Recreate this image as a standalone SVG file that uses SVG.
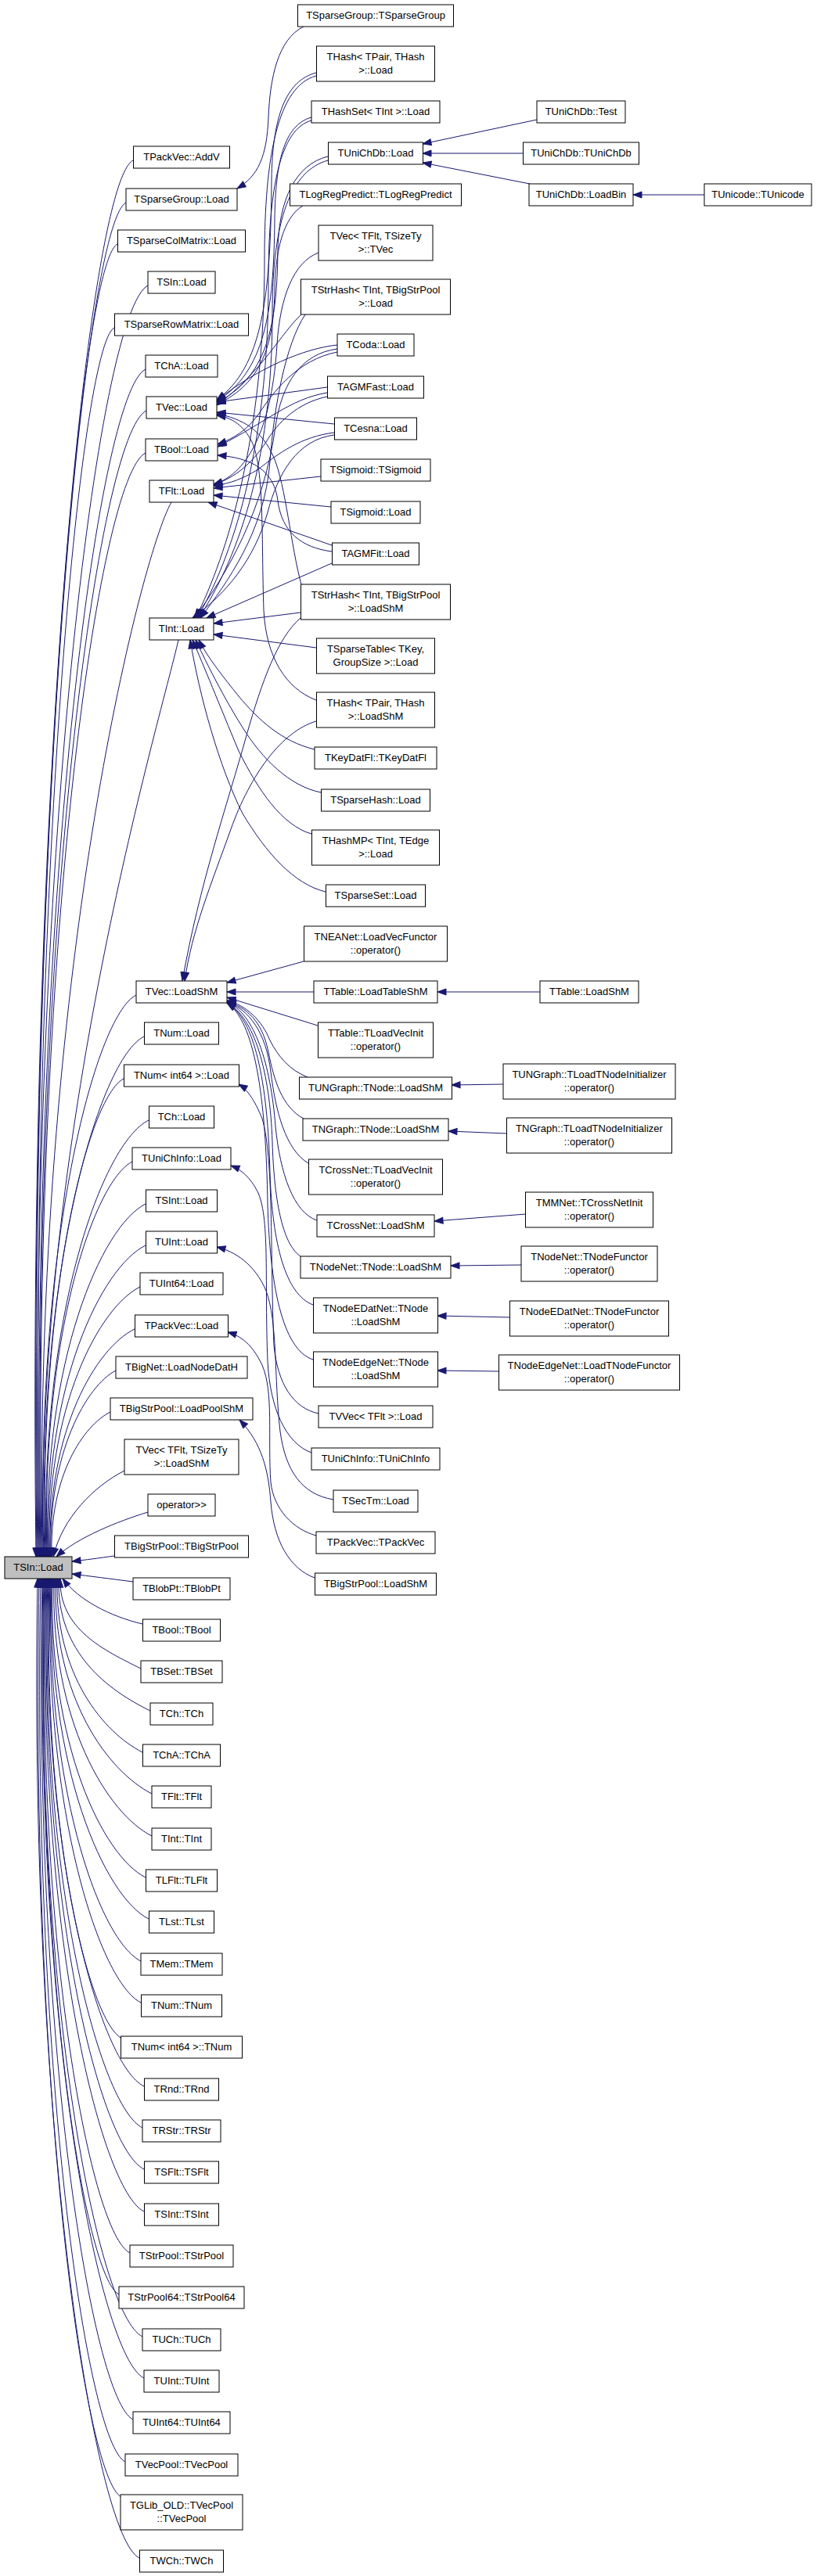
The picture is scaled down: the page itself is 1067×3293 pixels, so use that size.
<svg xmlns="http://www.w3.org/2000/svg" width="1067" height="3293" viewBox="0 0 1067 3293">
<defs>
<style>
.n rect{fill:#fff;stroke:#000;stroke-width:1}
.n.root rect{fill:#bfbfbf}
.n text{font-family:"Liberation Sans",Arial,sans-serif;font-size:13px;text-anchor:middle;fill:#000}
#edges path{fill:none;stroke:#191970;stroke-width:1;marker-end:url(#arr)}
</style>
<marker id="arr" markerUnits="userSpaceOnUse" markerWidth="13" markerHeight="10" viewBox="0 0 13 10" refX="12" refY="5" orient="auto">
<path d="M1,1 L12,5 L1,9 z" fill="#191970" stroke="#191970" stroke-width="1"/>
</marker>
</defs>
<rect width="1067" height="3293" fill="#fff"/>
<g id="edges">
<!-- column 1 to TSIn::Load -->
<path d="M170,205 C114,233 34,1006 46,1990"/>
<path d="M161,259 C110,285 35,1036 47,1990"/>
<path d="M150,312 C104,335 36,1065 48,1990"/>
<path d="M189,365 C126,397 37,1094 49,1990"/>
<path d="M146,419 C103,441 38,1124 50,1990"/>
<path d="M186,472 C125,502 39,1153 51,1990"/>
<path d="M187,525 C126,555 40,1182 52,1990"/>
<path d="M186,579 C126,609 41,1212 53,1990"/>
<path d="M219,642 C180,710 43,1250 54,1990"/>
<path d="M228,818 C205,920 45,1450 55,1990"/>
<path d="M174,1272 C121,1299 45,1593 56,1990"/>
<path d="M184,1325 C127,1354 47,1622 57,1990"/>
<path d="M158,1379 C113,1402 49,1652 58,1990"/>
<path d="M190,1432 C131,1461 51,1681 59,1990"/>
<path d="M169,1485 C120,1510 52,1710 60,1990"/>
<path d="M186,1539 C130,1567 54,1740 61,1990"/>
<path d="M186,1592 C130,1620 56,1769 62,1990"/>
<path d="M179,1645 C127,1671 58,1798 63,1990"/>
<path d="M172,1699 C123,1723 60,1828 64,1990"/>
<path d="M148,1752 C111,1771 61,1857 65,1990"/>
<path d="M141,1805 C107,1822 63,1886 66,1990"/>
<path d="M159,1880 C120,1900 80,1940 68,1990"/>
<path d="M189,1933 C150,1945 100,1965 72,1990"/>
<path d="M146,1989 C125,1992 110,1994 92,1996"/>
<path d="M170,2022 C140,2018 115,2015 92,2012"/>
<path d="M182,2076 C140,2066 100,2045 80,2018"/>
<path d="M180,2133 C134,2110 75,2083 77,2018"/>
<path d="M192,2187 C139,2161 72,2113 75,2018"/>
<path d="M182,2240 C133,2215 70,2142 73,2018"/>
<path d="M194,2293 C139,2265 67,2171 71,2018"/>
<path d="M194,2347 C138,2319 64,2201 69,2018"/>
<path d="M186,2400 C132,2373 61,2230 67,2018"/>
<path d="M190,2453 C134,2425 59,2259 66,2018"/>
<path d="M180,2507 C128,2481 58,2289 65,2018"/>
<path d="M180,2560 C128,2534 56,2318 64,2018"/>
<path d="M156,2606 C114,2585 54,2343 63,2018"/>
<path d="M184,2667 C129,2640 52,2377 62,2018"/>
<path d="M182,2720 C128,2693 50,2406 61,2018"/>
<path d="M184,2773 C128,2745 49,2435 60,2018"/>
<path d="M184,2827 C128,2799 47,2465 59,2018"/>
<path d="M166,2880 C117,2856 46,2494 58,2018"/>
<path d="M152,2933 C109,2912 45,2523 57,2018"/>
<path d="M182,2987 C125,2959 44,2553 56,2018"/>
<path d="M184,3040 C126,3011 43,2582 55,2018"/>
<path d="M170,3093 C118,3067 42,2611 54,2018"/>
<path d="M160,3147 C111,3123 40,2641 52,2018"/>
<path d="M155,3192 C108,3168 38,2674 50,2018"/>
<path d="M178,3270 C120,3241 36,2709 48,2018"/>
<!-- column 2 to column 1 (upper) -->
<path d="M388,34 C355,50 345,100 343,150 C341,200 330,225 303,241"/>
<path d="M404,93 C365,103 348,150 347,230 C346,380 335,470 277,511"/>
<path d="M398,150 C362,160 352,210 351,280 C350,400 338,475 277,513"/>
<path d="M419,200 C378,210 356,255 355,320 C354,420 340,482 277,515"/>
<path d="M387,263 C362,278 352,320 351,370 C350,440 335,490 277,517"/>
<path d="M385,402 C360,425 335,475 277,518"/>
<path d="M431,441 C390,445 330,470 277,512"/>
<path d="M418,495 L277,514"/>
<path d="M427,542 L277,527"/>
<path d="M385,747 C372,700 365,620 350,585 C335,550 310,535 277,529"/>
<path d="M404,895 C365,880 340,840 337,780 C334,690 338,600 322,565 C312,545 298,534 277,531"/>
<path d="M431,450 C380,460 350,500 330,530 C315,550 300,560 278,568"/>
<path d="M418,502 C370,510 340,540 278,571"/>
<path d="M424,705 C385,700 360,680 355,640 C350,600 320,585 278,582"/>
<path d="M407,323 C375,335 358,380 354,440 C348,540 320,605 273,619"/>
<path d="M427,553 C385,558 355,580 330,600 C310,612 295,618 273,621"/>
<path d="M418,507 C380,515 355,540 340,565 C320,595 300,610 273,620"/>
<path d="M410,609 L273,624"/>
<path d="M423,648 L273,633"/>
<path d="M424,697 L266,642"/>
<path d="M404,97 C355,110 338,200 338,330 C338,560 290,710 250,790"/>
<path d="M398,154 C358,165 343,240 343,360 C343,580 295,715 252,790"/>
<path d="M419,205 C372,218 348,280 348,400 C348,600 300,720 254,790"/>
<path d="M390,402 C365,440 350,520 345,590 C338,680 290,745 256,790"/>
<path d="M431,446 C385,452 360,490 352,545 C338,650 290,735 248,790"/>
<path d="M427,556 C380,562 355,605 342,655 C325,715 290,758 246,790"/>
<path d="M424,720 L264,790"/>
<path d="M384,783 L273,797"/>
<path d="M404,828 L273,811"/>
<path d="M402,958 C360,948 330,920 305,890 C285,865 265,840 254,818"/>
<path d="M410,1013 C370,1005 335,970 310,930 C285,890 265,850 250,818"/>
<path d="M398,1066 C360,1055 330,1010 305,960 C280,900 260,850 246,818"/>
<path d="M416,1140 C375,1130 340,1090 310,1040 C280,980 255,890 243,818"/>
<path d="M404,922 C360,935 320,990 295,1060 C270,1130 245,1190 236,1254"/>
<path d="M384,790 C355,815 335,870 315,940 C290,1030 255,1130 233,1254"/>
<!-- column 2 to column 1 (lower) -->
<path d="M388,1229 L290,1256"/>
<path d="M401,1268 L290,1268"/>
<path d="M406,1311 L290,1275"/>
<path d="M393,1377 C370,1368 355,1350 345,1330 C335,1305 315,1285 290,1279"/>
<path d="M388,1430 C360,1415 350,1380 343,1345 C335,1305 315,1288 290,1280"/>
<path d="M394,1487 C365,1470 352,1420 346,1370 C340,1320 318,1290 290,1281"/>
<path d="M405,1560 C375,1550 358,1500 352,1440 C346,1360 325,1295 290,1281"/>
<path d="M384,1606 C360,1590 350,1530 348,1460 C345,1370 325,1300 290,1282"/>
<path d="M400,1668 C365,1655 348,1590 345,1500 C342,1380 325,1302 290,1282"/>
<path d="M400,1738 C360,1725 345,1640 342,1540 C340,1400 325,1305 290,1282"/>
<path d="M407,1807 C375,1800 355,1770 350,1720 C345,1600 350,1480 335,1430 C325,1405 315,1392 305,1386"/>
<path d="M398,1857 C365,1845 345,1800 342,1740 C338,1640 345,1560 330,1525 C320,1505 308,1495 295,1490"/>
<path d="M426,1917 C385,1910 365,1880 358,1830 C350,1760 355,1690 340,1650 C325,1615 300,1600 277,1594"/>
<path d="M404,1963 C375,1955 350,1930 346,1895 C342,1840 350,1780 335,1745 C322,1718 308,1708 291,1703"/>
<path d="M402,2017 C370,2005 350,1970 346,1920 C343,1880 335,1845 306,1815"/>
<!-- column 3 to column 2 -->
<path d="M686,153 L540,184"/>
<path d="M669,196 L540,196"/>
<path d="M677,235 L540,208"/>
<path d="M900,249 L809,249"/>
<path d="M690,1268 L559,1268"/>
<path d="M643,1386 L577,1387"/>
<path d="M648,1449 L573,1446"/>
<path d="M672,1552 L555,1561"/>
<path d="M666,1617 L576,1618"/>
<path d="M652,1684 L559,1682"/>
<path d="M638,1753 L559,1752"/>
</g>
<g id="root" class="n root"><rect x="6" y="1990" width="86" height="28"/><text x="49" y="2008">TSIn::Load</text></g>
<!-- column 1 -->
<g id="c1_01" class="n"><rect x="170.5" y="187" width="123" height="28"/><text x="232" y="205">TPackVec::AddV</text></g>
<g id="c1_02" class="n"><rect x="161" y="241" width="142" height="28"/><text x="232" y="259">TSparseGroup::Load</text></g>
<g id="c1_03" class="n"><rect x="150.5" y="294" width="163" height="28"/><text x="232" y="312">TSparseColMatrix::Load</text></g>
<g id="c1_04" class="n"><rect x="189" y="347" width="86" height="28"/><text x="232" y="365">TSIn::Load</text></g>
<g id="c1_05" class="n"><rect x="146.5" y="401" width="171" height="28"/><text x="232" y="419">TSparseRowMatrix::Load</text></g>
<g id="c1_06" class="n"><rect x="186" y="454" width="92" height="28"/><text x="232" y="472">TChA::Load</text></g>
<g id="c1_07" class="n"><rect x="187" y="507" width="90" height="28"/><text x="232" y="525">TVec::Load</text></g>
<g id="c1_08" class="n"><rect x="186" y="561" width="92" height="28"/><text x="232" y="579">TBool::Load</text></g>
<g id="c1_09" class="n"><rect x="191" y="614" width="82" height="28"/><text x="232" y="632">TFlt::Load</text></g>
<g id="c1_10" class="n"><rect x="191" y="790" width="82" height="28"/><text x="232" y="808">TInt::Load</text></g>
<g id="c1_11" class="n"><rect x="174" y="1254" width="116" height="28"/><text x="232" y="1272">TVec::LoadShM</text></g>
<g id="c1_12" class="n"><rect x="184.5" y="1307" width="95" height="28"/><text x="232" y="1325">TNum::Load</text></g>
<g id="c1_13" class="n"><rect x="158.5" y="1361" width="147" height="28"/><text x="232" y="1379">TNum&lt; int64 &gt;::Load</text></g>
<g id="c1_14" class="n"><rect x="190.5" y="1414" width="83" height="28"/><text x="232" y="1432">TCh::Load</text></g>
<g id="c1_15" class="n"><rect x="169" y="1467" width="126" height="28"/><text x="232" y="1485">TUniChInfo::Load</text></g>
<g id="c1_16" class="n"><rect x="186.5" y="1521" width="91" height="28"/><text x="232" y="1539">TSInt::Load</text></g>
<g id="c1_17" class="n"><rect x="186.5" y="1574" width="91" height="28"/><text x="232" y="1592">TUInt::Load</text></g>
<g id="c1_18" class="n"><rect x="179" y="1627" width="106" height="28"/><text x="232" y="1645">TUInt64::Load</text></g>
<g id="c1_19" class="n"><rect x="172.5" y="1681" width="119" height="28"/><text x="232" y="1699">TPackVec::Load</text></g>
<g id="c1_20" class="n"><rect x="148" y="1734" width="168" height="28"/><text x="232" y="1752">TBigNet::LoadNodeDatH</text></g>
<g id="c1_21" class="n"><rect x="141" y="1787" width="182" height="28"/><text x="232" y="1805">TBigStrPool::LoadPoolShM</text></g>
<g id="c1_22" class="n"><rect x="159" y="1840" width="146" height="45"/><text x="232" y="1857.5">TVec&lt; TFlt, TSizeTy</text><text x="232" y="1874.5">&gt;::LoadShM</text></g>
<g id="c1_23" class="n"><rect x="189" y="1910" width="86" height="28"/><text x="232" y="1928">operator&gt;&gt;</text></g>
<g id="c1_24" class="n"><rect x="146.5" y="1963" width="171" height="28"/><text x="232" y="1981">TBigStrPool::TBigStrPool</text></g>
<g id="c1_25" class="n"><rect x="170" y="2017" width="124" height="28"/><text x="232" y="2035">TBlobPt::TBlobPt</text></g>
<g id="c1_26" class="n"><rect x="182.5" y="2070" width="99" height="28"/><text x="232" y="2088">TBool::TBool</text></g>
<g id="c1_27" class="n"><rect x="180" y="2123" width="104" height="28"/><text x="232" y="2141">TBSet::TBSet</text></g>
<g id="c1_28" class="n"><rect x="192" y="2177" width="80" height="28"/><text x="232" y="2195">TCh::TCh</text></g>
<g id="c1_29" class="n"><rect x="182.5" y="2230" width="99" height="28"/><text x="232" y="2248">TChA::TChA</text></g>
<g id="c1_30" class="n"><rect x="194" y="2283" width="76" height="28"/><text x="232" y="2301">TFlt::TFlt</text></g>
<g id="c1_31" class="n"><rect x="194" y="2337" width="76" height="28"/><text x="232" y="2355">TInt::TInt</text></g>
<g id="c1_32" class="n"><rect x="186.5" y="2390" width="91" height="28"/><text x="232" y="2408">TLFlt::TLFlt</text></g>
<g id="c1_33" class="n"><rect x="190.5" y="2443" width="83" height="28"/><text x="232" y="2461">TLst::TLst</text></g>
<g id="c1_34" class="n"><rect x="180" y="2497" width="104" height="28"/><text x="232" y="2515">TMem::TMem</text></g>
<g id="c1_35" class="n"><rect x="180.5" y="2550" width="103" height="28"/><text x="232" y="2568">TNum::TNum</text></g>
<g id="c1_36" class="n"><rect x="154.5" y="2603" width="155" height="28"/><text x="232" y="2621">TNum&lt; int64 &gt;::TNum</text></g>
<g id="c1_37" class="n"><rect x="184.5" y="2657" width="95" height="28"/><text x="232" y="2675">TRnd::TRnd</text></g>
<g id="c1_38" class="n"><rect x="182" y="2710" width="100" height="28"/><text x="232" y="2728">TRStr::TRStr</text></g>
<g id="c1_39" class="n"><rect x="184.5" y="2763" width="95" height="28"/><text x="232" y="2781">TSFlt::TSFlt</text></g>
<g id="c1_40" class="n"><rect x="184.5" y="2817" width="95" height="28"/><text x="232" y="2835">TSInt::TSInt</text></g>
<g id="c1_41" class="n"><rect x="166" y="2870" width="132" height="28"/><text x="232" y="2888">TStrPool::TStrPool</text></g>
<g id="c1_42" class="n"><rect x="152" y="2923" width="160" height="28"/><text x="232" y="2941">TStrPool64::TStrPool64</text></g>
<g id="c1_43" class="n"><rect x="182" y="2977" width="100" height="28"/><text x="232" y="2995">TUCh::TUCh</text></g>
<g id="c1_44" class="n"><rect x="184" y="3030" width="96" height="28"/><text x="232" y="3048">TUInt::TUInt</text></g>
<g id="c1_45" class="n"><rect x="170" y="3083" width="124" height="28"/><text x="232" y="3101">TUInt64::TUInt64</text></g>
<g id="c1_46" class="n"><rect x="160" y="3137" width="144" height="28"/><text x="232" y="3155">TVecPool::TVecPool</text></g>
<g id="c1_47" class="n"><rect x="154" y="3189" width="156" height="45"/><text x="232" y="3206.5">TGLib_OLD::TVecPool</text><text x="232" y="3223.5">::TVecPool</text></g>
<g id="c1_48" class="n"><rect x="178.5" y="3260" width="107" height="28"/><text x="232" y="3278">TWCh::TWCh</text></g>
<!-- column 2 -->
<g id="c2_01" class="n"><rect x="380.5" y="6" width="199" height="28"/><text x="480" y="24">TSparseGroup::TSparseGroup</text></g>
<g id="c2_02" class="n"><rect x="404.5" y="59" width="151" height="45"/><text x="480" y="76.5">THash&lt; TPair, THash</text><text x="480" y="93.5">&gt;::Load</text></g>
<g id="c2_03" class="n"><rect x="398" y="129" width="164" height="28"/><text x="480" y="147">THashSet&lt; TInt &gt;::Load</text></g>
<g id="c2_04" class="n"><rect x="419.5" y="182" width="121" height="28"/><text x="480" y="200">TUniChDb::Load</text></g>
<g id="c2_05" class="n"><rect x="370.5" y="235" width="219" height="28"/><text x="480" y="253">TLogRegPredict::TLogRegPredict</text></g>
<g id="c2_06" class="n"><rect x="407" y="288" width="146" height="45"/><text x="480" y="305.5">TVec&lt; TFlt, TSizeTy</text><text x="480" y="322.5">&gt;::TVec</text></g>
<g id="c2_07" class="n"><rect x="384.5" y="357" width="191" height="45"/><text x="480" y="374.5">TStrHash&lt; TInt, TBigStrPool</text><text x="480" y="391.5">&gt;::Load</text></g>
<g id="c2_08" class="n"><rect x="431" y="427" width="98" height="28"/><text x="480" y="445">TCoda::Load</text></g>
<g id="c2_09" class="n"><rect x="418.5" y="481" width="123" height="28"/><text x="480" y="499">TAGMFast::Load</text></g>
<g id="c2_10" class="n"><rect x="427.5" y="534" width="105" height="28"/><text x="480" y="552">TCesna::Load</text></g>
<g id="c2_11" class="n"><rect x="410" y="587" width="140" height="28"/><text x="480" y="605">TSigmoid::TSigmoid</text></g>
<g id="c2_12" class="n"><rect x="423" y="641" width="114" height="28"/><text x="480" y="659">TSigmoid::Load</text></g>
<g id="c2_13" class="n"><rect x="424.5" y="694" width="111" height="28"/><text x="480" y="712">TAGMFit::Load</text></g>
<g id="c2_14" class="n"><rect x="384.5" y="747" width="191" height="45"/><text x="480" y="764.5">TStrHash&lt; TInt, TBigStrPool</text><text x="480" y="781.5">&gt;::LoadShM</text></g>
<g id="c2_15" class="n"><rect x="404.5" y="816" width="151" height="45"/><text x="480" y="833.5">TSparseTable&lt; TKey,</text><text x="480" y="850.5">GroupSize &gt;::Load</text></g>
<g id="c2_16" class="n"><rect x="404.5" y="885" width="151" height="45"/><text x="480" y="902.5">THash&lt; TPair, THash</text><text x="480" y="919.5">&gt;::LoadShM</text></g>
<g id="c2_17" class="n"><rect x="402" y="955" width="156" height="28"/><text x="480" y="973">TKeyDatFl::TKeyDatFl</text></g>
<g id="c2_18" class="n"><rect x="410.5" y="1009" width="139" height="28"/><text x="480" y="1027">TSparseHash::Load</text></g>
<g id="c2_19" class="n"><rect x="398.5" y="1061" width="163" height="45"/><text x="480" y="1078.5">THashMP&lt; TInt, TEdge</text><text x="480" y="1095.5">&gt;::Load</text></g>
<g id="c2_20" class="n"><rect x="416.5" y="1131" width="127" height="28"/><text x="480" y="1149">TSparseSet::Load</text></g>
<g id="c2_21" class="n"><rect x="388.5" y="1184" width="183" height="45"/><text x="480" y="1201.5">TNEANet::LoadVecFunctor</text><text x="480" y="1218.5">::operator()</text></g>
<g id="c2_22" class="n"><rect x="401" y="1254" width="158" height="28"/><text x="480" y="1272">TTable::LoadTableShM</text></g>
<g id="c2_23" class="n"><rect x="406.5" y="1307" width="147" height="45"/><text x="480" y="1324.5">TTable::TLoadVecInit</text><text x="480" y="1341.5">::operator()</text></g>
<g id="c2_24" class="n"><rect x="382.5" y="1377" width="195" height="28"/><text x="480" y="1395">TUNGraph::TNode::LoadShM</text></g>
<g id="c2_25" class="n"><rect x="387" y="1430" width="186" height="28"/><text x="480" y="1448">TNGraph::TNode::LoadShM</text></g>
<g id="c2_26" class="n"><rect x="394.5" y="1482" width="171" height="45"/><text x="480" y="1499.5">TCrossNet::TLoadVecInit</text><text x="480" y="1516.5">::operator()</text></g>
<g id="c2_27" class="n"><rect x="405" y="1553" width="150" height="28"/><text x="480" y="1571">TCrossNet::LoadShM</text></g>
<g id="c2_28" class="n"><rect x="384" y="1606" width="192" height="28"/><text x="480" y="1624">TNodeNet::TNode::LoadShM</text></g>
<g id="c2_29" class="n"><rect x="400.5" y="1659" width="159" height="45"/><text x="480" y="1676.5">TNodeEDatNet::TNode</text><text x="480" y="1693.5">::LoadShM</text></g>
<g id="c2_30" class="n"><rect x="400.5" y="1728" width="159" height="45"/><text x="480" y="1745.5">TNodeEdgeNet::TNode</text><text x="480" y="1762.5">::LoadShM</text></g>
<g id="c2_31" class="n"><rect x="407" y="1797" width="146" height="28"/><text x="480" y="1815">TVVec&lt; TFlt &gt;::Load</text></g>
<g id="c2_32" class="n"><rect x="398" y="1851" width="164" height="28"/><text x="480" y="1869">TUniChInfo::TUniChInfo</text></g>
<g id="c2_33" class="n"><rect x="426" y="1905" width="108" height="28"/><text x="480" y="1923">TSecTm::Load</text></g>
<g id="c2_34" class="n"><rect x="404" y="1958" width="152" height="28"/><text x="480" y="1976">TPackVec::TPackVec</text></g>
<g id="c2_35" class="n"><rect x="402.5" y="2011" width="155" height="28"/><text x="480" y="2029">TBigStrPool::LoadShM</text></g>
<!-- column 3 -->
<g id="c3_01" class="n"><rect x="686" y="129" width="113" height="28"/><text x="742.5" y="147">TUniChDb::Test</text></g>
<g id="c3_02" class="n"><rect x="668.5" y="182" width="148" height="28"/><text x="742.5" y="200">TUniChDb::TUniChDb</text></g>
<g id="c3_03" class="n"><rect x="676" y="235" width="133" height="28"/><text x="742.5" y="253">TUniChDb::LoadBin</text></g>
<g id="c3_04" class="n"><rect x="690" y="1254" width="126" height="28"/><text x="753" y="1272">TTable::LoadShM</text></g>
<g id="c3_05" class="n"><rect x="643" y="1360" width="220" height="45"/><text x="753" y="1377.5">TUNGraph::TLoadTNodeInitializer</text><text x="753" y="1394.5">::operator()</text></g>
<g id="c3_06" class="n"><rect x="647.5" y="1429" width="211" height="45"/><text x="753" y="1446.5">TNGraph::TLoadTNodeInitializer</text><text x="753" y="1463.5">::operator()</text></g>
<g id="c3_07" class="n"><rect x="671.5" y="1524" width="163" height="45"/><text x="753" y="1541.5">TMMNet::TCrossNetInit</text><text x="753" y="1558.5">::operator()</text></g>
<g id="c3_08" class="n"><rect x="666" y="1593" width="174" height="45"/><text x="753" y="1610.5">TNodeNet::TNodeFunctor</text><text x="753" y="1627.5">::operator()</text></g>
<g id="c3_09" class="n"><rect x="651.5" y="1663" width="203" height="45"/><text x="753" y="1680.5">TNodeEDatNet::TNodeFunctor</text><text x="753" y="1697.5">::operator()</text></g>
<g id="c3_10" class="n"><rect x="637.5" y="1732" width="231" height="45"/><text x="753" y="1749.5">TNodeEdgeNet::LoadTNodeFunctor</text><text x="753" y="1766.5">::operator()</text></g>
<!-- column 4 -->
<g id="c4_01" class="n"><rect x="900" y="235" width="137" height="28"/><text x="968.5" y="253">TUnicode::TUnicode</text></g>
</svg>
